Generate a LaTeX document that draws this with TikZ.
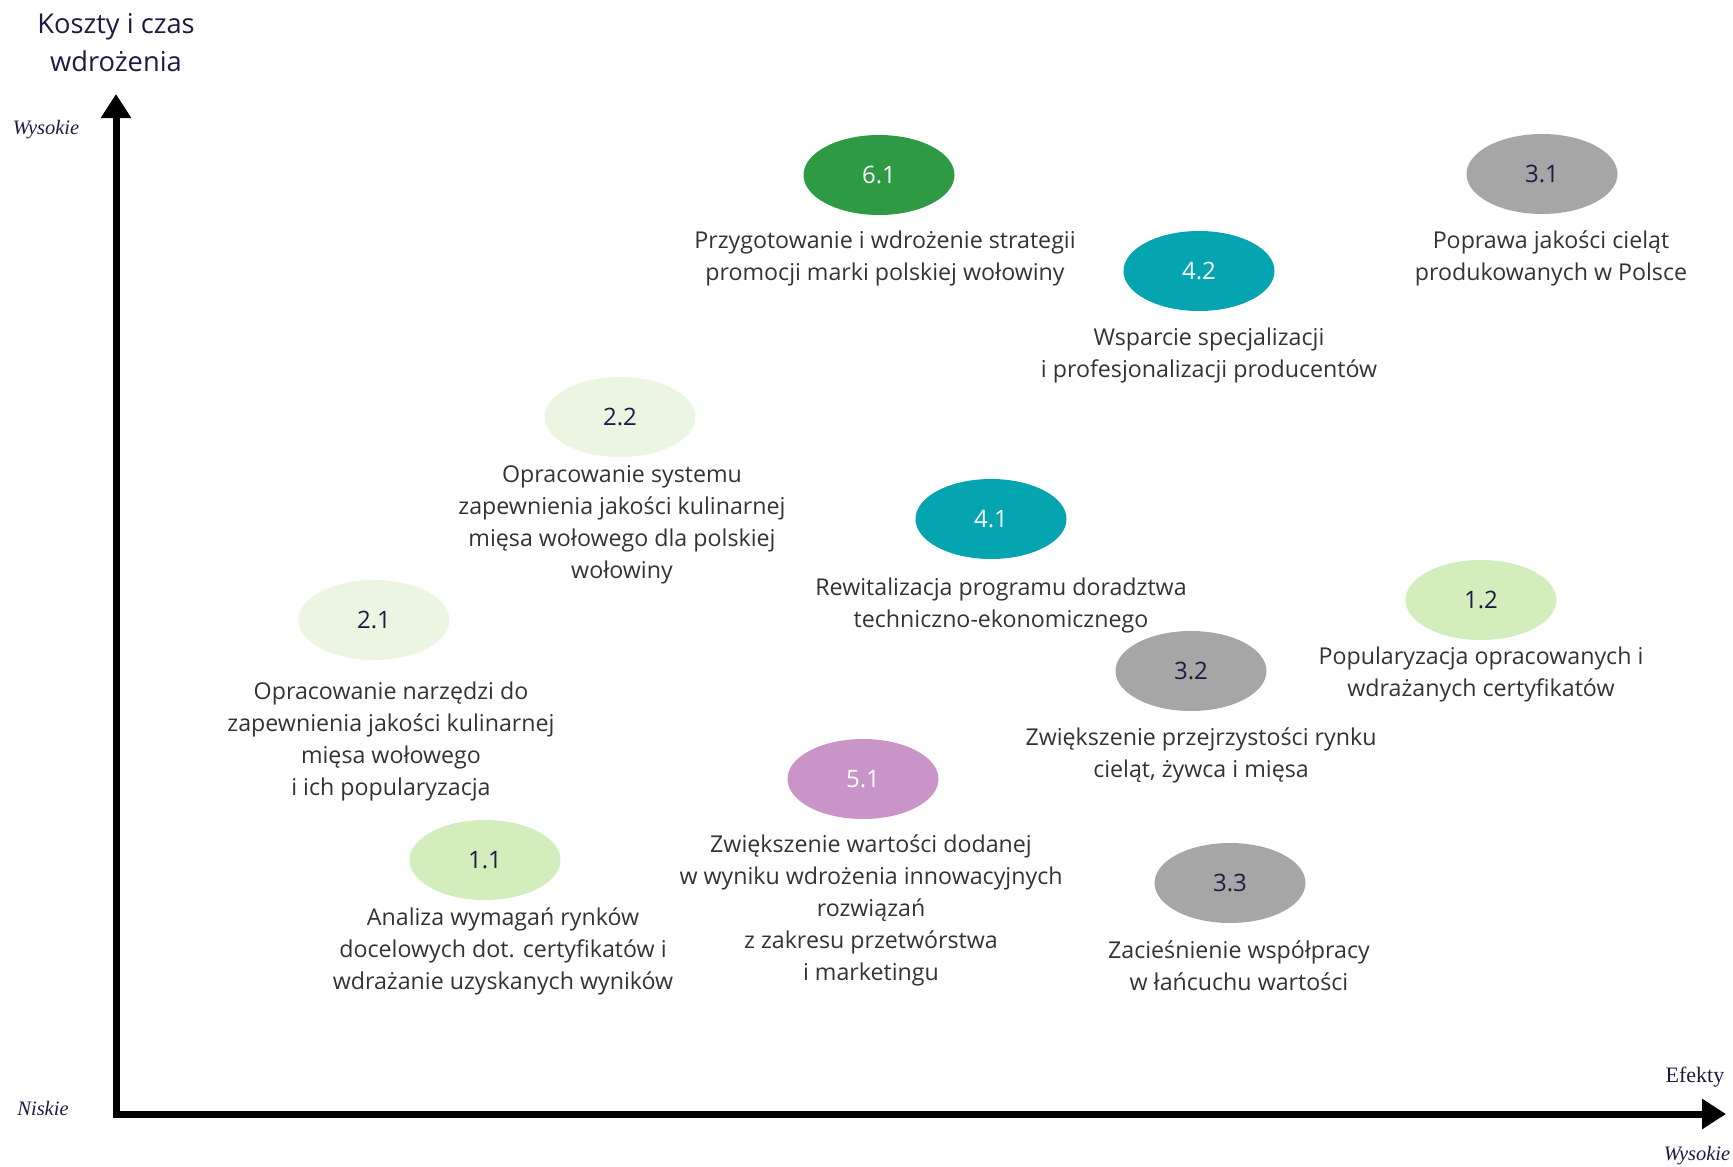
\documentclass[tikz,border=0pt]{standalone}
\usepackage{fontspec}
\setmainfont{Open Sans}
\newfontfamily\serifit{Liberation Serif}
\usetikzlibrary{arrows.meta,shapes.geometric}
\definecolor{navy}{HTML}{1B1B45}
\definecolor{bodytxt}{HTML}{333333}
\definecolor{cgreen}{HTML}{2E9A44}
\definecolor{cteal}{HTML}{04A5B0}
\definecolor{cgray}{HTML}{A6A6A6}
\definecolor{cpale}{HTML}{EBF5E1}
\definecolor{clight}{HTML}{D4EDBC}
\definecolor{cmauve}{HTML}{C994C7}
\begin{document}
\begin{tikzpicture}[x=1pt,y=-1pt,
  bub/.style={ellipse,minimum width=151pt,minimum height=80pt,inner sep=0pt,
    font=\fontsize{24}{26}\selectfont},
  dark/.style={bub,fill=#1,text=white},
  lite/.style={bub,fill=#1,text=navy},
  desc/.style={align=center,text=bodytxt,inner sep=0pt,
    font=\fontsize{23.2}{32}\selectfont},
  side/.style={text=navy,inner sep=0pt,font=\serifit\itshape\fontsize{20.5}{22}\selectfont},
  axis/.style={line width=7pt,-{Triangle[width=29pt,length=24pt]}}]
\useasboundingbox (0,0) rectangle (1733,1167);
% axes
\coordinate (origin) at (116,1114);
\coordinate (ytip) at (116,94);
\coordinate (xtip) at (1726,1114);
\draw[axis] ([yshift=3.5pt]origin) -- (ytip);
\draw[axis] ([xshift=-3.5pt]origin) -- (xtip);
% axis labels
\node[text=navy,align=center,inner sep=0pt,font=\fontsize{27.3}{38}\selectfont] (ytitle) at (116,43) {Koszty i czas\\wdrożenia};
\node[side] (yhigh) at (46,130) {Wysokie};
\node[side] (ylow) at (43,1108) {Niskie};
\node[text=navy,inner sep=0pt,font=\serifit\fontsize{22}{24}\selectfont] (xtitle) at (1695,1077) {Efekty};
\node[side] (xhigh) at (1697,1156) {Wysokie};
% bubbles
\node[dark=cgreen] (e61) at (879,175) {6.1};
\node[lite=cgray] (e31) at (1542,174) {3.1};
\node[dark=cteal] (e42) at (1199,271) {4.2};
\node[lite=cpale] (e22) at (620,417) {2.2};
\node[dark=cteal] (e41) at (991,519) {4.1};
\node[lite=cpale] (e21) at (374,620) {2.1};
\node[lite=clight] (e12) at (1481,600) {1.2};
\node[lite=cgray] (e32) at (1191,671) {3.2};
\node[dark=cmauve] (e51) at (863,779) {5.1};
\node[lite=clight] (e11) at (485,860) {1.1};
\node[lite=cgray] (e33) at (1230,883) {3.3};
% descriptions
\node[desc] (t61) at (885,258) {Przygotowanie i wdrożenie strategii\\promocji marki polskiej wołowiny};
\node[desc] (t31) at (1551,258) {Poprawa jakości cieląt\\produkowanych w Polsce};
\node[desc] (t42) at (1209,355) {Wsparcie specjalizacji\\i profesjonalizacji producentów};
\node[desc] (t22) at (622,525) {Opracowanie systemu\\zapewnienia jakości kulinarnej\\mięsa wołowego dla polskiej\\wołowiny};
\node[desc] (t41) at (1001,605) {Rewitalizacja programu doradztwa\\techniczno-ekonomicznego};
\node[desc] (t21) at (391,741) {Opracowanie narzędzi do\\zapewnienia jakości kulinarnej\\mięsa wołowego\\i ich popularyzacja};
\node[desc] (t12) at (1481,674) {Popularyzacja opracowanych i\\wdrażanych certyfikatów};
\node[desc] (t32) at (1201,755) {Zwiększenie przejrzystości rynku\\cieląt, żywca i mięsa};
\node[desc] (t51) at (871,910) {Zwiększenie wartości dodanej\\w wyniku wdrożenia innowacyjnych\\rozwiązań\\z zakresu przetwórstwa\\i marketingu};
\node[desc] (t11) at (503,951) {Analiza wymagań rynków\\docelowych dot. certyfikatów i\\wdrażanie uzyskanych wyników};
\node[desc] (t33) at (1239,966) {Zacieśnienie współpracy\\w łańcuchu wartości};
\end{tikzpicture}
\end{document}
